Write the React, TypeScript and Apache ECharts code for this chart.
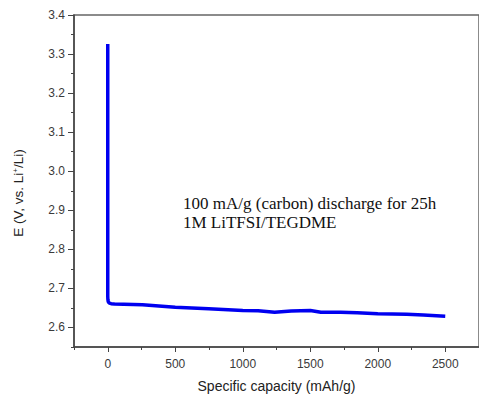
import React, { useEffect, useRef } from "react";
import * as echarts from "echarts";

const capacity = [0, 0, 1, 3, 6, 12, 25, 50, 257, 500, 747, 1000, 1114, 1236, 1359, 1500, 1579, 1725, 1848, 2000, 2215, 2338, 2500];
const voltage = [3.326, 2.68, 2.672, 2.667, 2.6645, 2.6625, 2.661, 2.6603, 2.658, 2.652, 2.648, 2.6434, 2.6426, 2.639, 2.642, 2.6434, 2.639, 2.639, 2.6375, 2.635, 2.634, 2.632, 2.629];

const xTicks = [0, 500, 1000, 1500, 2000, 2500];
const yTicks = [2.6, 2.7, 2.8, 2.9, 3.0, 3.1, 3.2, 3.3, 3.4];

const xName = "Specific capacity (mAh/g)";
const yName = "{a|E (V, vs. Li}{sup|+}{a|/Li)}";
const noteLines = ["100 mA/g (carbon) discharge for 25h", "1M LiTFSI/TEGDME"];

export default function App() {
  const ref = useRef<HTMLDivElement>(null);
  useEffect(() => {
    if (!ref.current) return;
    const chart = echarts.init(ref.current, null, { renderer: "svg" });
    const axisColor = "#444";
    const sans = "Liberation Sans, Arial, sans-serif";
    const labelStyle = { color: "#3a3a3a", fontSize: 12, fontFamily: sans };
    chart.setOption({
      animation: false,
      backgroundColor: "#fff",
      grid: {
        left: 74,
        top: 15,
        width: 409,
        height: 334,
        show: true,
        borderColor: "#666",
        borderWidth: 1.5,
      },
      xAxis: [
        {
          type: "value",
          min: -250,
          max: 2750,
          interval: 250,
          position: "bottom",
          axisLine: { show: true, onZero: false, lineStyle: { color: axisColor, width: 1.5 } },
          axisTick: { show: true, length: 3, lineStyle: { color: axisColor } },
          axisLabel: { show: false },
          splitLine: { show: false },
          name: xName,
          nameLocation: "middle",
          nameGap: 32,
          nameTextStyle: { fontSize: 14, color: "#222", fontFamily: sans },
        },
        {
          type: "value",
          min: -250,
          max: 2750,
          position: "bottom",
          axisLine: { show: false, onZero: false },
          axisTick: { show: true, length: 5, customValues: xTicks, lineStyle: { color: axisColor } },
          axisLabel: { ...labelStyle, margin: 11, customValues: xTicks, formatter: (v: number) => String(v) },
          splitLine: { show: false },
        },
      ],
      yAxis: [
        {
          type: "value",
          min: 2.55,
          max: 3.4,
          interval: 0.05,
          position: "left",
          axisLine: { show: true, onZero: false, lineStyle: { color: axisColor, width: 1.5 } },
          axisTick: { show: true, length: 3, lineStyle: { color: axisColor } },
          axisLabel: { show: false },
          splitLine: { show: false },
        },
        {
          type: "value",
          min: 2.55,
          max: 3.4,
          position: "left",
          axisLine: { show: false, onZero: false },
          axisTick: { show: true, length: 6, customValues: yTicks, lineStyle: { color: axisColor } },
          axisLabel: { ...labelStyle, margin: 9, customValues: yTicks, formatter: (v: number) => v.toFixed(1) },
          splitLine: { show: false },
        },
      ],
      graphic: [
        {
          type: "text",
          x: 18,
          y: 193,
          rotation: Math.PI / 2,
          style: {
            text: yName,
            align: "center",
            verticalAlign: "middle",
            rich: {
              a: { fontSize: 13.5, fill: "#222", fontFamily: sans },
              sup: { fontSize: 8, fill: "#222", fontFamily: sans, verticalAlign: "top", padding: [0, 0, 6, 0] },
            },
          },
        },
        {
          type: "text",
          left: 183,
          top: 194,
          style: {
            text: noteLines.join("\n"),
            fontSize: 17,
            lineHeight: 19,
            fill: "#111",
            fontFamily: "Liberation Serif, Times New Roman, serif",
          },
        },
      ],
      series: [
        {
          type: "line",
          xAxisIndex: 0,
          yAxisIndex: 0,
          data: capacity.map((c, i) => [c, voltage[i]]),
          showSymbol: false,
          smooth: false,
          lineStyle: { color: "#0000f0", width: 3.5, join: "round", cap: "butt" },
        },
      ],
    });
    return () => chart.dispose();
  }, []);
  return <div ref={ref} style={{ position: "fixed", left: 0, top: 0, width: 479, height: 398 }} />;
}
